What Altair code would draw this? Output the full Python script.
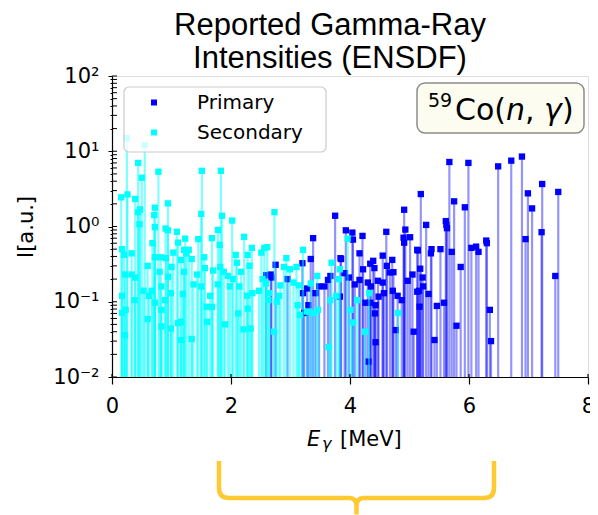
import altair as alt
import pandas as pd

# ---- data (E in MeV, I in a.u.) ----
primary_E = [6.49, 6.71, 6.89, 6.95, 6.99, 7.06, 7.23, 7.22, 7.45, 7.50,
             5.67, 5.99, 5.19, 5.28, 5.75, 5.93, 5.61, 5.62, 5.63, 5.71,
             5.14, 5.37, 5.36, 5.52, 5.18, 5.22, 5.23, 5.16, 5.32, 5.17,
             5.46, 5.58, 5.42, 5.79, 5.86, 6.04, 6.12, 6.16, 6.29, 6.30,
             6.35, 6.37,
             4.91, 4.93, 4.90, 4.91, 5.01, 5.13, 4.61, 3.93, 4.04, 4.05,
             4.21, 4.16, 4.55, 4.71, 4.62, 4.67, 4.73, 4.39, 4.34, 4.41,
             4.22, 3.91, 3.98, 3.84, 4.16, 4.08, 4.30, 4.35, 4.47, 4.55,
             4.72, 4.80, 4.87, 4.97, 5.05, 5.13, 4.26, 4.34, 4.43, 4.48,
             4.57, 4.42, 4.77, 5.07, 4.43, 4.31,
             3.75, 3.38, 3.34, 3.20, 2.75, 2.67, 2.68, 2.95, 3.85, 3.67,
             3.63, 3.48, 3.57, 3.28, 3.21, 3.42, 3.30, 3.23, 3.83, 2.59]
primary_I = [6.3, 7.5, 8.5, 0.68, 2.76, 1.74, 3.67, 0.84, 0.22, 2.88,
             7.2, 7.0, 2.7, 1.05, 2.16, 1.8, 1.18, 1.05, 0.95, 0.46,
             0.48, 0.5, 0.44, 0.5, 0.275, 0.21, 0.16, 0.14, 0.127, 0.086,
             0.088, 0.097, 0.031, 0.048, 0.29, 0.52, 0.54, 0.46, 0.65, 0.6,
             0.078, 0.03,
             1.67, 0.91, 0.71, 0.61, 0.72, 0.49, 0.85, 0.89, 0.83, 0.67,
             0.75, 0.44, 0.41, 0.36, 0.30, 0.245, 0.247, 0.35, 0.32, 0.28,
             0.27, 0.24, 0.21, 0.38, 0.195, 0.17, 0.18, 0.16, 0.19, 0.18,
             0.14, 0.12, 0.105, 0.19, 0.23, 0.136, 0.097, 0.097, 0.09, 0.117,
             0.13, 0.07, 0.042, 0.04, 0.029, 0.016,
             1.39, 0.70, 0.37, 0.325, 0.31, 0.23, 0.21, 0.2, 0.37, 0.22,
             0.195, 0.16, 0.16, 0.15, 0.13, 0.13, 0.09, 0.071, 0.117, 0.225]

secondary_E = [0.25, 0.55, 0.44, 0.50, 0.78, 0.155, 0.26, 0.39, 0.47, 0.44,
               0.46, 0.72, 0.71, 0.94, 0.72, 0.90, 0.94, 1.09, 1.23, 1.11,
               0.68, 0.17, 0.20, 0.33, 0.72, 0.82, 0.91, 1.03, 1.21, 1.25,
               0.60, 0.22, 0.39, 0.33, 1.00, 0.94, 0.80, 1.16, 1.21, 0.53,
               0.62, 0.67, 0.17, 0.83, 0.89, 0.99, 0.72, 1.19, 0.38, 0.17,
               0.23, 0.83, 0.60, 1.16, 1.11, 0.83, 0.99, 0.22, 1.16,
               1.51, 1.83, 1.50, 1.85, 2.02, 1.45, 1.68, 1.78, 1.81, 2.22,
               2.35, 2.56, 2.51, 1.29, 1.34, 1.55, 2.08, 2.28, 2.10, 2.31,
               1.70, 1.82, 1.88, 1.56, 2.17, 1.43, 1.37, 1.50, 1.95, 2.03,
               1.78, 1.98, 2.14, 2.27, 2.36, 2.47, 2.53, 1.65, 1.59, 1.68,
               1.90, 2.12, 2.28, 2.21, 2.33, 1.60, 1.34,
               2.73, 2.61, 2.93, 3.21, 2.89, 2.99, 3.10, 3.69, 3.45, 3.05,
               3.14, 2.59, 2.83, 3.34, 2.64, 2.81, 2.63, 2.77, 3.12, 3.28,
               3.39, 3.46, 3.16, 3.67, 3.77, 3.64, 2.72, 3.81,
               3.96, 4.32, 4.12, 4.01, 4.05, 4.25, 4.81, 3.83]
secondary_I = [14.9, 12.1, 7.0, 4.45, 5.35, 2.44, 2.67, 2.32, 1.69, 1.55,
               1.07, 1.78, 1.42, 2.03, 0.98, 0.94, 0.89, 0.85, 0.69, 0.61,
               0.60, 0.50, 0.42, 0.44, 0.39, 0.39, 0.38, 0.45, 0.49, 0.44,
               0.30, 0.23, 0.21, 0.23, 0.29, 0.215, 0.25, 0.36, 0.25, 0.14,
               0.12, 0.14, 0.12, 0.16, 0.105, 0.13, 0.097, 0.127, 0.105, 0.071,
               0.078, 0.078, 0.059, 0.054, 0.052, 0.047, 0.044, 0.036, 0.031,
               5.5, 5.5, 1.47, 1.39, 1.20, 0.68, 0.70, 0.90, 0.57, 0.73,
               0.52, 0.52, 0.45, 0.49, 0.37, 0.39, 0.42, 0.42, 0.33, 0.30,
               0.26, 0.29, 0.25, 0.28, 0.25, 0.23, 0.17, 0.16, 0.22, 0.20,
               0.17, 0.16, 0.16, 0.12, 0.13, 0.14, 0.20, 0.12, 0.086, 0.085,
               0.05, 0.07, 0.081, 0.043, 0.044, 0.054, 0.032,
               1.55, 0.53, 0.38, 0.49, 0.29, 0.27, 0.29, 0.33, 0.22, 0.18,
               0.165, 0.175, 0.165, 0.175, 0.13, 0.12, 0.105, 0.10, 0.09, 0.074,
               0.071, 0.078, 0.067, 0.105, 0.12, 0.025, 0.04, 0.2,
               0.69, 0.13, 0.105, 0.078, 0.053, 0.04, 0.071, 0.27]

series_names = ["Primary", "Secondary"]
series_colors = ["#0000ff", "#00ffff"]
x_ticks = [0, 2, 4, 6, 8]
y_majors = [0.01, 0.1, 1, 10, 100]
y_labels = ["10⁻²", "10⁻¹", "10⁰", "10¹", "10²"]
y_minors = [m * 10.0 ** e for e in range(-2, 2) for m in range(2, 10)]
title_lines = ["Reported Gamma-Ray", "Intensities  (ENSDF)"]

df = pd.DataFrame({
    "E": primary_E + secondary_E,
    "I": primary_I + secondary_I,
    "type": [series_names[0]] * len(primary_E) + [series_names[1]] * len(secondary_E),
})

W, H = 476, 301
FONT = "DejaVu Sans"

xscale = alt.Scale(domain=[0, 8], nice=False, zero=False)
yscale = alt.Scale(type="log", domain=[0.01, 100], nice=False)

major_test = "abs(log(datum.value)/LN10 - round(log(datum.value)/LN10)) < 0.001"
label_arr = "[" + ",".join("'%s'" % s for s in y_labels) + "]"

xaxis = alt.Axis(values=x_ticks, title=None, labelFont=FONT, labelFontSize=21,
                 labelColor="black", tickColor="black", tickSize=7, tickWidth=1.2,
                 domainColor="black", domainWidth=1.2, grid=False, labelPadding=11,
                 labelFlush=False, labelOverlap=False)
yaxis = alt.Axis(values=sorted(y_majors + y_minors), title="I[a.u.]",
                 titleFont=FONT, titleFontSize=21, titleFontWeight="normal",
                 titleColor="black", titlePadding=16,
                 labelFont=FONT, labelFontSize=21, labelColor="black",
                 labelExpr=f"({major_test}) ? {label_arr}[round(log(datum.value)/LN10)+2] : ''",
                 labelOverlap=False, labelPadding=9,
                 tickSize={"condition": {"test": major_test, "value": 4}, "value": 2},
                 tickColor="black", tickWidth=1.0,
                 domainColor="black", domainWidth=1.2, grid=False)

legend = alt.Legend(orient="none", legendX=32, legendY=16.5, title=None,
                    labelFont=FONT, labelFontSize=20, labelColor="black",
                    symbolType="square", symbolSize=36, symbolStrokeWidth=0,
                    labelOffset=33, rowPadding=10, padding=0, symbolOffset=0)
color = alt.Color("type:N", scale=alt.Scale(domain=series_names, range=series_colors),
                  legend=legend)

base = alt.Chart(df)


def stems(name, col, op):
    return base.transform_filter(alt.datum.type == name).mark_rule(
        color=col, opacity=op, strokeWidth=2.2).encode(
        x=alt.X("E:Q", scale=xscale, axis=xaxis),
        y=alt.Y("I:Q", scale=yscale, axis=yaxis),
        y2=alt.datum(0.01))


def heads(name):
    return base.transform_filter(alt.datum.type == name).mark_square(
        size=40, opacity=1).encode(
        x=alt.X("E:Q", scale=xscale, axis=xaxis),
        y=alt.Y("I:Q", scale=yscale, axis=yaxis),
        color=color)


one = pd.DataFrame({"k": [0]})

# inward ticks (matplotlib style in/out ticks)
ytick_df = pd.DataFrame({"I": y_majors + y_minors})
yticks_in = alt.Chart(ytick_df).mark_rule(color="black", strokeWidth=1).encode(
    y=alt.Y("I:Q", scale=yscale, axis=yaxis), x=alt.value(0), x2=alt.value(5))
xtick_df = pd.DataFrame({"E": x_ticks})
xticks_in = alt.Chart(xtick_df).mark_rule(color="black", strokeWidth=1.2).encode(
    x=alt.X("E:Q", scale=xscale, axis=xaxis), y=alt.value(H), y2=alt.value(H - 3))

legend_box = alt.Chart(one).mark_rect(
    fill="white", fillOpacity=0.8, stroke="#cccccc", strokeWidth=1.2, cornerRadius=5).encode(
    x=alt.value(12), x2=alt.value(214), y=alt.value(11), y2=alt.value(76))

note_box = alt.Chart(one).mark_rect(
    fill="#fdfcf1", stroke="#8c8c8c", strokeWidth=1.5, cornerRadius=8).encode(
    x=alt.value(305), x2=alt.value(472), y=alt.value(7), y2=alt.value(57))


def txt(s, x, y, size, style="normal"):
    return alt.Chart(one).mark_text(
        text=s, font=FONT, fontSize=size, fontStyle=style, color="black",
        align="left", baseline="alphabetic").encode(x=alt.value(x), y=alt.value(y))


note = [txt("59", 316, 31, 19), txt("Co(", 343, 44, 30), txt("n", 394, 44, 30, "italic"),
        txt(",", 413, 44, 30), txt("γ", 432, 44, 30, "italic"), txt(")", 450, 44, 30)]
xtitle = [txt("E", 195, 370, 21, "italic"), txt("γ", 210, 373, 16, "italic"),
          txt("[MeV]", 228, 370, 21)]

brace_path = ("M -1 -0.189 L -1 0.007 Q -1 0.08 -0.927 0.08 L -0.05 0.08 "
              "Q 0 0.08 0 0.14 L 0 0.2 "
              "M 1 -0.189 L 1 0.007 Q 1 0.08 0.927 0.08 L 0.05 0.08 "
              "Q 0 0.08 0 0.14")
brace = alt.Chart(one).mark_point(
    shape=brace_path, size=275 ** 2, filled=False, stroke="#FFC933",
    strokeWidth=4.5, opacity=1, strokeJoin="round").encode(
    x=alt.value(244.5), y=alt.value(411))

chart = alt.layer(
    stems("Primary", "#0000ff", 0.42), heads("Primary"),
    stems("Secondary", "#00ffff", 0.5), heads("Secondary"),
    yticks_in, xticks_in, legend_box, note_box, *note, *xtitle, brace,
).properties(
    width=W, height=H,
    title=alt.TitleParams(title_lines, font="Liberation Sans", fontSize=31,
                          fontWeight="normal", color="black", lineHeight=33,
                          anchor="middle", dx=-20, offset=-10),
    autosize=alt.AutoSizeParams(type="none"),
    padding={"left": 104, "top": 68, "right": 2, "bottom": 138},
).configure_view(stroke="black", strokeWidth=1.2).configure(background="white")

chart.save("out.html", embed_options={"renderer": "svg", "actions": False})
